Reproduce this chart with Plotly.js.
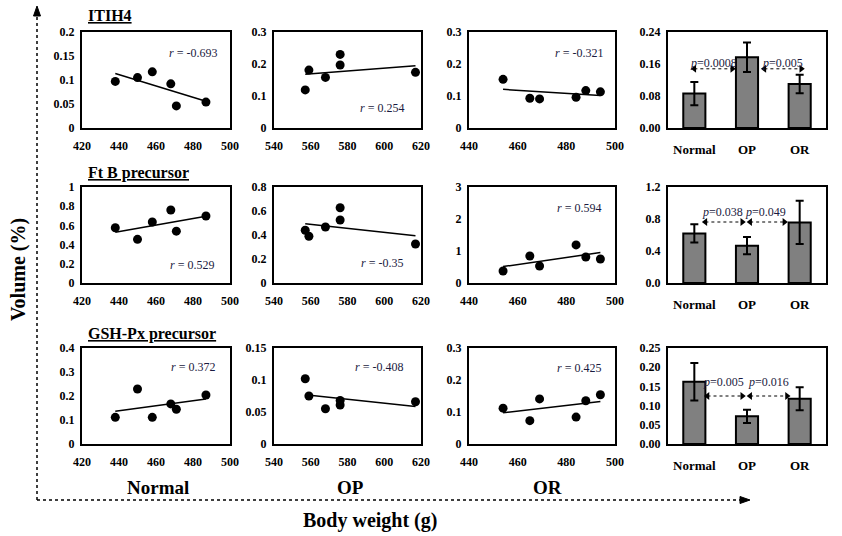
<!DOCTYPE html>
<html><head><meta charset="utf-8">
<script src="https://cdn.plot.ly/plotly-3.0.1.min.js"></script>
<style>body{margin:0;background:#fff}#chart{width:842px;height:536px}</style>
</head><body><div id="chart"></div>
<script>
// ---------- data ----------
const normalBW = [438, 450, 458, 468, 471, 487];
const opBW     = [557, 559, 568, 576, 576, 617];
const orBW     = [454, 465, 469, 484, 488, 494];

const proteins = ['ITIH4', 'Ft B precursor', 'GSH-Px precursor'];
const groups   = ['Normal', 'OP', 'OR'];

const itih4Normal = [0.097, 0.105, 0.117, 0.092, 0.046, 0.054];
const itih4OP     = [0.119, 0.181, 0.158, 0.230, 0.197, 0.174];
const itih4OR     = [0.152, 0.093, 0.091, 0.096, 0.117, 0.113];
const ftbNormal   = [0.576, 0.455, 0.635, 0.760, 0.540, 0.698];
const ftbOP       = [0.440, 0.390, 0.467, 0.627, 0.525, 0.325];
const ftbOR       = [0.375, 0.844, 0.531, 1.190, 0.812, 0.750];
const gshNormal   = [0.111, 0.229, 0.111, 0.167, 0.145, 0.204];
const gshOP       = [0.102, 0.075, 0.055, 0.068, 0.061, 0.066];
const gshOR       = [0.112, 0.073, 0.141, 0.084, 0.135, 0.154];

const rNormal = ['-0.693', '0.529', '0.372'];
const rOP     = ['0.254', '-0.35', '-0.408'];
const rOR     = ['-0.321', '0.594', '0.425'];

const meanITIH4 = [0.086, 0.177, 0.110];
const errITIH4  = [0.029, 0.037, 0.023];
const meanFtB   = [0.620, 0.467, 0.757];
const errFtB    = [0.113, 0.108, 0.270];
const meanGSH   = [0.162, 0.072, 0.118];
const errGSH    = [0.049, 0.017, 0.030];

const pNormalOP = ['0.0008', '0.038', '0.005'];
const pOPOR     = ['0.005', '0.049', '0.016'];

// ---------- layout config ----------
const W = 842, H = 536;
const FONT = 'Liberation Serif, Times New Roman, serif';
const colPx = [[82, 230], [274, 421], [469, 615], [668, 826]];
const rowPx = [[32, 128], [187, 283], [348, 444]];
const xCfg = [{range: [420, 500], dtick: 20}, {range: [540, 620], dtick: 20}, {range: [440, 500], dtick: 20}];
const yCfg = [
  [{range: [0, 0.2], dtick: 0.05}, {range: [0, 0.3], dtick: 0.1}, {range: [0, 0.3], dtick: 0.1}, {range: [0, 0.24], dtick: 0.08, fmt: '.2f'}],
  [{range: [0, 1], dtick: 0.2}, {range: [0, 0.8], dtick: 0.2}, {range: [0, 3], dtick: 1}, {range: [0, 1.2], dtick: 0.4, fmt: '.1f'}],
  [{range: [0, 0.4], dtick: 0.1}, {range: [0, 0.15], dtick: 0.05}, {range: [0, 0.3], dtick: 0.1}, {range: [0, 0.25], dtick: 0.05, fmt: '.2f'}]
];
const rPos = [
  [[480, 0.156], [599, 0.0625], [485, 0.234]],
  [[479.5, 0.19], [599, 0.167], [485, 2.34]],
  [[480, 0.32], [597, 0.12], [485, 0.2375]]
];
const pLabelPos = [[0.36, 1.67, 0.1625], [0.53, 1.36, 0.8875], [0.56, 1.40, 0.161]];
const arrowPos = [
  [[0.0, 0.72], [1.33, 2.03], 0.148],
  [[0.21, 0.91], [1.06, 1.71], 0.7625],
  [[0.25, 0.91], [1.06, 1.76], 0.125]
];

const scatterY = [[itih4Normal, itih4OP, itih4OR], [ftbNormal, ftbOP, ftbOR], [gshNormal, gshOP, gshOR]];
const bwX = [normalBW, opBW, orBW];
const rVals = [rNormal, rOP, rOR];
const barMeans = [meanITIH4, meanFtB, meanGSH];
const barErrs = [errITIH4, errFtB, errGSH];

function fit(x, y) {
  const n = x.length;
  const mx = x.reduce((a, b) => a + b, 0) / n, my = y.reduce((a, b) => a + b, 0) / n;
  let sxy = 0, sxx = 0;
  for (let i = 0; i < n; i++) { sxy += (x[i] - mx) * (y[i] - my); sxx += (x[i] - mx) ** 2; }
  const b = sxy / sxx, a = my - b * mx;
  const x0 = Math.min(...x), x1 = Math.max(...x);
  return {x: [x0, x1], y: [a + b * x0, a + b * x1]};
}
const px = v => v / W, py = v => 1 - v / H;

const traces = [];
const layout = {
  width: W, height: H, margin: {l: 0, r: 0, t: 0, b: 0},
  paper_bgcolor: '#fff', plot_bgcolor: '#fff', showlegend: false,
  font: {family: FONT, color: '#000'},
  annotations: [], shapes: []
};

const tickFont = {family: FONT, size: 12, weight: 'bold', color: '#000'};
for (let r = 0; r < 3; r++) {
  for (let c = 0; c < 4; c++) {
    const k = r * 4 + c + 1;
    const xa = 'xaxis' + (k === 1 ? '' : k), ya = 'yaxis' + (k === 1 ? '' : k);
    const xr = 'x' + (k === 1 ? '' : k), yr = 'y' + (k === 1 ? '' : k);
    const yc = yCfg[r][c];
    layout[ya] = {
      domain: [py(rowPx[r][1]), py(rowPx[r][0])], anchor: xr,
      range: yc.range, dtick: yc.dtick, tick0: 0, tickformat: yc.fmt || '',
      showgrid: false, zeroline: false, showline: true, mirror: true,
      linecolor: '#000', linewidth: 2, ticks: '', tickfont: tickFont, ticklabelstandoff: 3
    };
    if (c < 3) {
      layout[xa] = {
        domain: [px(colPx[c][0]), px(colPx[c][1])], anchor: yr,
        range: xCfg[c].range, dtick: xCfg[c].dtick, tick0: 0,
        showgrid: false, zeroline: false, showline: true, mirror: true,
        linecolor: '#000', linewidth: 2, ticks: '', tickfont: tickFont, ticklabelstandoff: 6
      };
      traces.push({
        type: 'scatter', mode: 'markers', x: bwX[c], y: scatterY[r][c], xaxis: xr, yaxis: yr,
        marker: {color: '#000', size: 9}, cliponaxis: false
      });
      const f = fit(bwX[c], scatterY[r][c]);
      traces.push({type: 'scatter', mode: 'lines', x: f.x, y: f.y, xaxis: xr, yaxis: yr,
        line: {color: '#000', width: 1.5}});
      layout.annotations.push({
        xref: xr, yref: yr, x: rPos[r][c][0], y: rPos[r][c][1], showarrow: false,
        xanchor: 'center', yanchor: 'middle',
        text: '<i>r</i> = ' + rVals[c][r], font: {family: FONT, size: 12, color: '#1a1a40'}
      });
    } else {
      layout[xa] = {
        domain: [px(colPx[c][0]), px(colPx[c][1])], anchor: yr,
        range: [-0.5, 2.5], tickvals: [0, 1, 2], ticktext: groups,
        showgrid: false, zeroline: false, showline: true, mirror: true,
        linecolor: '#000', linewidth: 2, ticks: '',
        tickfont: {family: FONT, size: 13, weight: 'bold', color: '#000'}, ticklabelstandoff: 8
      };
      traces.push({
        type: 'bar', x: [0, 1, 2], y: barMeans[r], xaxis: xr, yaxis: yr, width: 0.42,
        marker: {color: '#808080', line: {color: '#000', width: 2}},
        error_y: {type: 'data', array: barErrs[r], visible: true, color: '#000', thickness: 2, width: 4}
      });
      const ap = arrowPos[r];
      [ap[0], ap[1]].forEach(seg => {
        traces.push({
          type: 'scatter', mode: 'lines+markers', x: seg, y: [ap[2], ap[2]], xaxis: xr, yaxis: yr,
          line: {color: '#000', width: 1, dash: 'dot'},
          marker: {color: '#000', size: 7, symbol: ['triangle-left', 'triangle-right']}
        });
      });
      const pl = pLabelPos[r];
      layout.annotations.push({xref: xr, yref: yr, x: pl[0], y: pl[2], showarrow: false,
        xanchor: 'center', yanchor: 'middle',
        text: '<i>p</i>=' + pNormalOP[r], font: {family: FONT, size: 12, color: '#1a1a40'}});
      layout.annotations.push({xref: xr, yref: yr, x: pl[1], y: pl[2], showarrow: false,
        xanchor: 'center', yanchor: 'middle',
        text: '<i>p</i>=' + pOPOR[r], font: {family: FONT, size: 12, color: '#1a1a40'}});
    }
  }
}

// protein titles
const titleY = [16, 173, 334];
proteins.forEach((p, i) => {
  layout.annotations.push({xref: 'paper', yref: 'paper', x: px(86), y: py(titleY[i]),
    xanchor: 'left', yanchor: 'middle', showarrow: false, text: p,
    font: {family: FONT, size: 16, weight: 'bold', color: '#000', lineposition: 'under'}});
});
// group labels below
const groupX = [158, 350, 547];
groups.forEach((g, i) => {
  layout.annotations.push({xref: 'paper', yref: 'paper', x: px(groupX[i]), y: py(487),
    xanchor: 'center', yanchor: 'middle',
    showarrow: false, text: g, font: {family: FONT, size: 19, weight: 'bold', color: '#000'}});
});
layout.annotations.push({xref: 'paper', yref: 'paper', x: px(370), y: py(520), showarrow: false,
  xanchor: 'center', yanchor: 'middle',
  text: 'Body weight (g)', font: {family: FONT, size: 20, weight: 'bold', color: '#000'}});
layout.annotations.push({xref: 'paper', yref: 'paper', x: px(18), y: py(270), showarrow: false,
  xanchor: 'center', yanchor: 'middle',
  textangle: -90, text: 'Volume (%)', font: {family: FONT, size: 20, weight: 'bold', color: '#000'}});

// dotted frame arrows
layout.shapes.push({type: 'line', xref: 'paper', yref: 'paper', x0: px(37), x1: px(37), y0: py(500), y1: py(14),
  line: {color: '#000', width: 1.5, dash: 'dot'}});
layout.shapes.push({type: 'line', xref: 'paper', yref: 'paper', x0: px(37), x1: px(742), y0: py(500), y1: py(500),
  line: {color: '#000', width: 1.5, dash: 'dot'}});
layout.shapes.push({type: 'path', xref: 'paper', yref: 'paper',
  path: `M ${px(37)} ${py(6)} L ${px(33.5)} ${py(16)} L ${px(40.5)} ${py(16)} Z`,
  fillcolor: '#000', line: {color: '#000', width: 1}});
layout.shapes.push({type: 'path', xref: 'paper', yref: 'paper',
  path: `M ${px(750)} ${py(500)} L ${px(740)} ${py(496.5)} L ${px(740)} ${py(503.5)} Z`,
  fillcolor: '#000', line: {color: '#000', width: 1}});

Plotly.newPlot('chart', traces, layout, {displayModeBar: false, staticPlot: true});
</script></body></html>
